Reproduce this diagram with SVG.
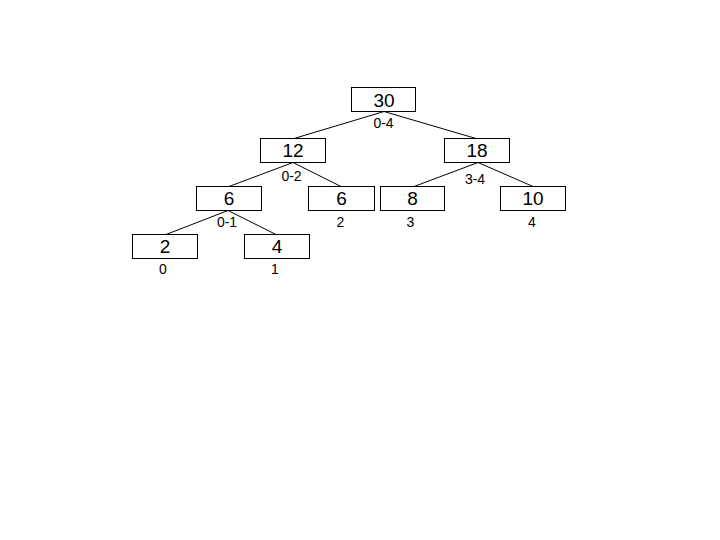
<svg xmlns="http://www.w3.org/2000/svg" width="720" height="540" viewBox="0 0 720 540">
<style>
.box{fill:#fff;stroke:#000;stroke-width:1}
.val{font-family:"Liberation Sans",Arial,sans-serif;font-size:19px;text-anchor:middle;fill:#000}
.lbl{font-family:"Liberation Sans",Arial,sans-serif;font-size:14px;text-anchor:middle;fill:#000}
.edge{stroke:#000;stroke-width:1;fill:none}
</style>
<rect width="720" height="540" fill="#fff"/>
<g id="connectors">
<line class="edge" x1="384" y1="111.5" x2="294" y2="138.5"/>
<line class="edge" x1="384" y1="111.5" x2="476" y2="138.5"/>
<line class="edge" x1="293" y1="162.5" x2="229" y2="186.5"/>
<line class="edge" x1="293" y1="162.5" x2="341" y2="186.5"/>
<line class="edge" x1="478" y1="162.5" x2="414" y2="186.5"/>
<line class="edge" x1="478" y1="162.5" x2="533" y2="186.5"/>
<line class="edge" x1="228" y1="210.5" x2="166" y2="234.5"/>
<line class="edge" x1="228" y1="210.5" x2="276" y2="234.5"/>
</g>
<g id="n30">
<rect class="box" x="351.5" y="87.5" width="64" height="24"/>
<text class="val" x="384" y="106.5">30</text>
<text class="lbl" x="383.5" y="128">0-4</text>
</g>
<g id="n12">
<rect class="box" x="260.5" y="138.5" width="65" height="24"/>
<text class="val" x="293" y="157">12</text>
<text class="lbl" x="291.5" y="181">0-2</text>
</g>
<g id="n18">
<rect class="box" x="444.5" y="138.5" width="65" height="24"/>
<text class="val" x="477" y="157">18</text>
<text class="lbl" x="475" y="184">3-4</text>
</g>
<g id="n6a">
<rect class="box" x="196.5" y="186.5" width="65" height="24"/>
<text class="val" x="229" y="205">6</text>
<text class="lbl" x="227" y="227">0-1</text>
</g>
<g id="n6b">
<rect class="box" x="308.5" y="186.5" width="66" height="24"/>
<text class="val" x="341.5" y="205">6</text>
<text class="lbl" x="340.5" y="226.5">2</text>
</g>
<g id="n8">
<rect class="box" x="380.5" y="186.5" width="64" height="24"/>
<text class="val" x="412.5" y="205">8</text>
<text class="lbl" x="410.5" y="226.5">3</text>
</g>
<g id="n10">
<rect class="box" x="500.5" y="186.5" width="65" height="24"/>
<text class="val" x="533" y="205">10</text>
<text class="lbl" x="532" y="226.5">4</text>
</g>
<g id="n2">
<rect class="box" x="132.5" y="234.5" width="65" height="24"/>
<text class="val" x="165" y="253">2</text>
<text class="lbl" x="163" y="274">0</text>
</g>
<g id="n4">
<rect class="box" x="244.5" y="234.5" width="65" height="24"/>
<text class="val" x="277" y="253">4</text>
<text class="lbl" x="275" y="274">1</text>
</g>
</svg>
